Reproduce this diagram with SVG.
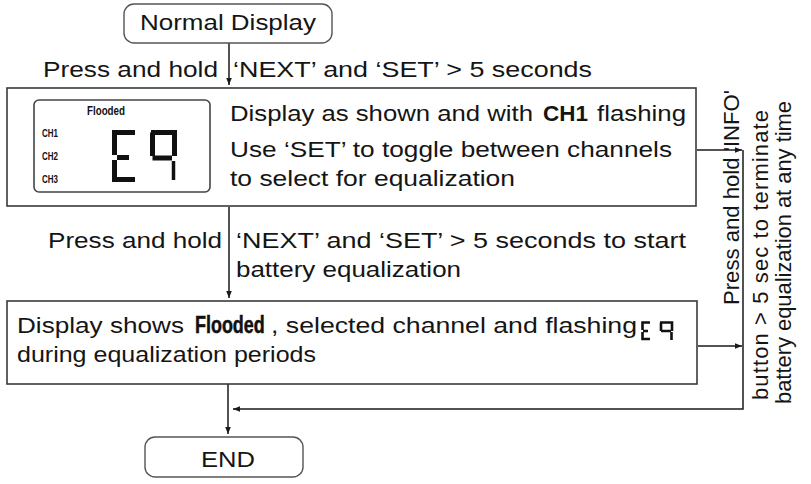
<svg xmlns="http://www.w3.org/2000/svg" width="811" height="484" viewBox="0 0 811 484">
<defs>
<style>
.t{font-family:"Liberation Sans",Arial,sans-serif;font-size:22px;fill:#151515}
.b{font-weight:bold}
.box{fill:#fff;stroke:#3a3a3a;stroke-width:1.6}
.rbox{fill:#fff;stroke:#555;stroke-width:1.4}
.ln{fill:none;stroke:#1a1a1a;stroke-width:1.5}
.seg{fill:none;stroke:#111;stroke-linecap:butt;stroke-linejoin:miter}
.lcd{font-family:"Liberation Sans Narrow","Liberation Sans",sans-serif;font-weight:bold;fill:#111}
</style>
<marker id="ah" viewBox="0 0 10 10" refX="10" refY="5" markerWidth="7" markerHeight="7" markerUnits="userSpaceOnUse" orient="auto">
<path d="M0,1 L10,5 L0,9 Z" fill="#1a1a1a"/>
</marker>
</defs>
<rect width="811" height="484" fill="#fff"/>

<g id="connectors">
<line class="ln" x1="229" y1="43" x2="229" y2="85" marker-end="url(#ah)"/>
<line class="ln" x1="229" y1="207" x2="229" y2="298" marker-end="url(#ah)"/>
<line class="ln" x1="228" y1="384" x2="228" y2="434" marker-end="url(#ah)"/>
<line class="ln" x1="697" y1="150" x2="742" y2="150" marker-end="url(#ah)"/>
<line class="ln" x1="698" y1="346" x2="742" y2="346" marker-end="url(#ah)"/>
<polyline class="ln" points="743,150 743,409 233,409" marker-end="url(#ah)"/>
<text class="t" x="43" y="77" textLength="175" lengthAdjust="spacingAndGlyphs">Press and hold</text>
<text class="t" x="233" y="77" textLength="359" lengthAdjust="spacingAndGlyphs">‘NEXT’ and ‘SET’ &gt; 5 seconds</text>
<text class="t" x="48" y="248" textLength="174" lengthAdjust="spacingAndGlyphs">Press and hold</text>
<text class="t" x="236" y="248" textLength="450" lengthAdjust="spacingAndGlyphs">‘NEXT’ and ‘SET’ &gt; 5 seconds to start</text>
<text class="t" x="236" y="277" textLength="225" lengthAdjust="spacingAndGlyphs">battery equalization</text>
<text class="t" transform="translate(739,305) rotate(-90)" textLength="215" lengthAdjust="spacingAndGlyphs">Press and hold 'INFO'</text>
<text class="t" transform="translate(768,400) rotate(-90)" textLength="290">button &gt; 5 sec to terminate</text>
<text class="t" transform="translate(791,404) rotate(-90)" textLength="303" lengthAdjust="spacingAndGlyphs">battery equalization at any time</text>
</g>

<g id="normal-display">
<rect class="rbox" x="124" y="4" width="208" height="39" rx="10"/>
<text class="t" x="140" y="30" textLength="176" lengthAdjust="spacingAndGlyphs">Normal Display</text>
</g>

<g id="select-channel">
<rect class="box" x="7" y="88" width="689" height="118"/>
<rect x="34" y="100" width="176" height="92" rx="5" fill="#fff" stroke="#444" stroke-width="1.6"/>
<text class="lcd" x="87" y="115" font-size="12" textLength="38" lengthAdjust="spacingAndGlyphs">Flooded</text>
<text class="lcd" x="42" y="137" font-size="10" textLength="16" lengthAdjust="spacingAndGlyphs">CH1</text>
<text class="lcd" x="42" y="160" font-size="10" textLength="16" lengthAdjust="spacingAndGlyphs">CH2</text>
<text class="lcd" x="42" y="183" font-size="10" textLength="16" lengthAdjust="spacingAndGlyphs">CH3</text>
<g class="seg" stroke-width="5">
<path d="M135,132.5 H114.5 V155 M114.5,160 V179.5 H135 M117,157.5 H129"/>
<path d="M151,132.5 H174.5 V156 M152.5,132.5 V156 M152.5,158 H172"/>
<path d="M173.5,161 V180" stroke-width="3.5"/>
</g>
<text class="t" x="230" y="121" textLength="303" lengthAdjust="spacingAndGlyphs">Display as shown and with</text>
<text class="t b" x="543" y="121" textLength="45" lengthAdjust="spacingAndGlyphs">CH1</text>
<text class="t" x="597" y="121" textLength="89" lengthAdjust="spacingAndGlyphs">flashing</text>
<text class="t" x="230" y="157" textLength="442" lengthAdjust="spacingAndGlyphs">Use ‘SET’ to toggle between channels</text>
<text class="t" x="230" y="186" textLength="285" lengthAdjust="spacingAndGlyphs">to select for equalization</text>
</g>

<g id="equalizing">
<rect class="box" x="7" y="301" width="690" height="83"/>
<text class="t" x="17" y="333" textLength="167" lengthAdjust="spacingAndGlyphs">Display shows</text>
<text class="lcd" transform="translate(195,333) scale(0.78,1)" font-size="23" stroke="#111" stroke-width="0.5">Flooded</text>
<text class="t" x="271" y="333" textLength="366" lengthAdjust="spacingAndGlyphs">, selected channel and flashing</text>
<g class="seg" stroke-width="2.6">
<path d="M650,322.5 H642.5 V330 M642.5,332 V339 H650 M643,331 H648"/>
<path d="M660,322.5 H672 V331 M661,322.5 V331 M661,331 H671 M671.5,332 V340"/>
</g>
<text class="t" x="17" y="362" textLength="299" lengthAdjust="spacingAndGlyphs">during equalization periods</text>
</g>

<g id="end">
<rect class="rbox" x="145" y="437" width="158" height="40" rx="10"/>
<text class="t" x="228" y="467" text-anchor="middle" textLength="54" lengthAdjust="spacingAndGlyphs">END</text>
</g>
</svg>
